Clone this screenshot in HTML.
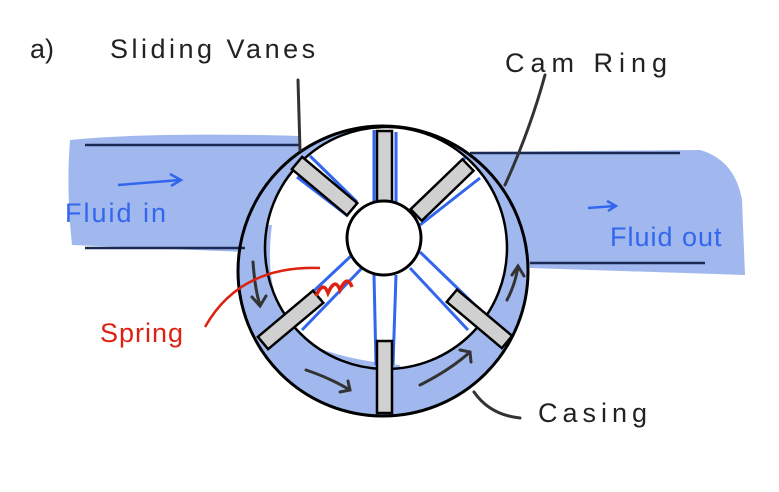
<!DOCTYPE html><html><head><style>body{margin:0;background:#fff}svg{display:block}</style></head><body>
<svg width="779" height="492" viewBox="0 0 779 492" xmlns="http://www.w3.org/2000/svg" font-family="Liberation Sans, sans-serif">
<g fill="#a0b8ee">
<path d="M70 140 Q150 132 300 136 L300 250 L245 252 L72 245 Q66 190 70 140Z"/>
<path d="M470 152 L700 150 Q735 160 742 200 L745 275 L530 268 L500 240Z"/>
<circle cx="383" cy="271" r="146"/>
</g>
<circle cx="386" cy="248" r="121" fill="#fff"/>
<path d="M272 225 Q262 300 300 340 Q340 360 400 365 L400 372 Q330 365 290 345 Q255 300 262 225Z" fill="#a0b8ee"/>
<g stroke="#1a2a55" stroke-width="2.5" fill="none">
<line x1="85" y1="145" x2="300" y2="145"/><line x1="85" y1="248" x2="245" y2="248"/>
<line x1="470" y1="153" x2="680" y2="153"/><line x1="530" y1="263" x2="705" y2="263"/>
</g>
<circle cx="383" cy="271" r="145" fill="none" stroke="#000" stroke-width="3"/>
<circle cx="386" cy="248" r="121" fill="none" stroke="#000" stroke-width="2.5"/>
<g stroke="#3366ee" stroke-width="3" fill="none">
<line x1="374" y1="130" x2="374" y2="205"/><line x1="396" y1="132" x2="396" y2="205"/>
<line x1="374" y1="275" x2="376" y2="365"/><line x1="396" y1="275" x2="393" y2="365"/>
<line x1="310" y1="156" x2="357" y2="202"/><line x1="297" y1="177" x2="348" y2="216"/>
<line x1="465" y1="158" x2="410" y2="210"/><line x1="480" y1="178" x2="420" y2="225"/>
<line x1="352" y1="255" x2="285" y2="318"/><line x1="362" y1="268" x2="302" y2="330"/>
<line x1="420" y1="252" x2="480" y2="310"/><line x1="410" y1="268" x2="468" y2="330"/>
</g>
<g fill="#d0d0d0" stroke="#000" stroke-width="2.5">
<rect x="377" y="131" width="15" height="71"/>
<rect x="377" y="341" width="15" height="72"/>
<rect x="0" y="-8" width="72" height="16" transform="translate(297,163) rotate(40)"/>
<rect x="0" y="-8" width="72" height="16" transform="translate(468,165) rotate(136)"/>
<rect x="0" y="-8" width="72" height="16" transform="translate(263,343) rotate(-40)"/>
<rect x="0" y="-8" width="72" height="16" transform="translate(507,342) rotate(-140)"/>
</g>
<circle cx="384" cy="238" r="37" fill="#fff" stroke="#000" stroke-width="3"/>
<g stroke="#333" stroke-width="3" fill="none" stroke-linecap="round">
<path d="M253 262 Q255 290 260 305 M252 297 L260 306 L266 296"/>
<path d="M306 370 Q330 378 350 390 M340 392 L350 390 L348 381"/>
<path d="M420 385 Q450 370 470 352 M460 350 L470 352 L471 362"/>
<path d="M507 300 Q515 285 518 267 M512 275 L518 266 L524 276"/>
<path d="M298 80 L300 150"/><path d="M545 75 Q530 130 505 185"/>
<path d="M474 392 Q490 415 520 418"/>
</g>
<path d="M205 327 Q240 265 320 268" stroke="#dd2211" stroke-width="2.5" fill="none"/>
<path d="M316 296 q7 -16 12 -3 q7 -16 12 -3 q7 -16 12 -3" stroke="#dd2211" stroke-width="3.5" fill="none"/>
<g stroke="#3366ee" stroke-width="2.5" fill="none"><path d="M118 185 L180 180 M170 174 L181 180 L171 186"/><path d="M588 208 L615 206 M607 201 L616 206 L608 211"/></g>
<g font-size="27" fill="#222">
<text x="30" y="58">a)</text>
<text x="110" y="58" letter-spacing="3.5">Sliding Vanes</text>
<text x="505" y="72" letter-spacing="6">Cam Ring</text>
<text x="538" y="422" letter-spacing="5">Casing</text>
</g>
<text x="65" y="222" font-size="27" fill="#3366ee" letter-spacing="2">Fluid in</text>
<text x="610" y="246" font-size="27" fill="#3366ee" letter-spacing="1">Fluid out</text>
<text x="100" y="342" font-size="27" fill="#dd2211" letter-spacing="1">Spring</text>
</svg></body></html>
